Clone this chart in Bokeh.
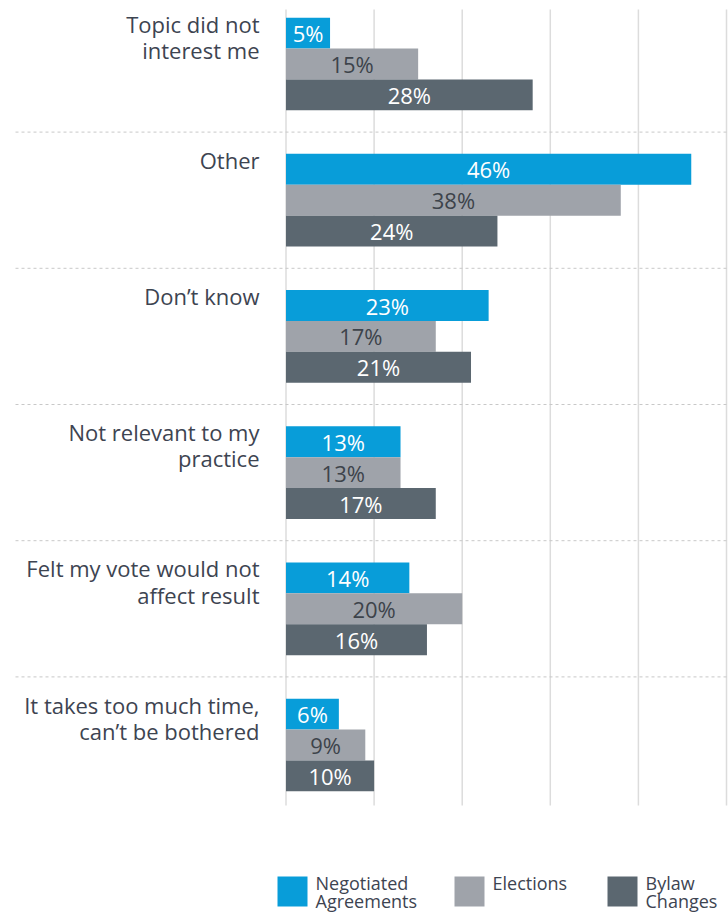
from bokeh.plotting import figure
from bokeh.models import Range1d, ColumnDataSource
from bokeh.core.properties import value
from bokeh.embed import file_html
from bokeh.resources import INLINE

categories = [
    "Topic did not\ninterest me",
    "Other",
    "Don\u2019t know",
    "Not relevant to my\npractice",
    "Felt my vote would not\naffect result",
    "It takes too much time,\ncan\u2019t be bothered",
]
negotiated = [5, 46, 23, 13, 14, 6]
elections = [15, 38, 17, 13, 20, 9]
bylaw = [28, 24, 21, 17, 16, 10]
series_names = ["Negotiated\nAgreements", "Elections", "Bylaw\nChanges"]
ticks = [0, 10, 20, 30, 40, 50]

colors = ["#089dd9", "#9fa3aa", "#5b6770"]
label_colors = ["#ffffff", "#3d434b", "#ffffff"]
FONT = "Open Sans"
TEXT = "#3d4451"

W, H = 728, 914
px_per_unit = 8.81
x0_px = 285.5
pitch = 136.2
first_c = 63.5
bar_h = 30.9 / pitch

xs = -x0_px / px_per_unit
x_range = Range1d(xs, xs + W / px_per_unit)
y_top = -first_c / pitch
y_range = Range1d(y_top + H / pitch, y_top)


def px_x(px):
    return xs + px / px_per_unit


def px_y(py):
    return y_top + py / pitch


p = figure(width=W, height=H, x_range=x_range, y_range=y_range,
           output_backend="svg", toolbar_location=None,
           x_axis_location=None, y_axis_location=None, min_border=0)
p.outline_line_color = None
p.xgrid.visible = False
p.ygrid.visible = False
p.background_fill_color = "white"

n = len(categories)
# vertical gridlines
p.segment(x0=ticks, x1=ticks, y0=[px_y(9)] * len(ticks), y1=[px_y(805)] * len(ticks),
          line_color="#dcdcdc", line_width=1.5)
# dashed separators
sep_y = [i + 0.5 for i in range(n - 1)]
p.segment(x0=[px_x(15)] * len(sep_y), x1=[px_x(W)] * len(sep_y),
          y0=sep_y, y1=sep_y, line_color="#c8c8c8", line_width=1, line_dash="3 3")

for k, vals in enumerate([negotiated, elections, bylaw]):
    ys = [i + (k - 1) * bar_h for i in range(n)]
    src = ColumnDataSource(dict(y=ys, right=vals, mid=[v / 2 for v in vals],
                                lab=[f"{v}%" for v in vals]))
    p.hbar(y="y", left=0, right="right", height=bar_h, source=src,
           fill_color=colors[k], line_color=None)
    p.text(x="mid", y="y", text="lab", source=src, text_align="center",
           text_baseline="middle", text_font=value(FONT), text_font_size="22px",
           text_color=label_colors[k])

# category labels
cat_src = ColumnDataSource(dict(x=[-26.5 / px_per_unit] * n,
                                y=[i - 1.5 * bar_h - 9 / pitch for i in range(n)],
                                t=categories))
p.text(x="x", y="y", text="t", source=cat_src, text_align="right",
       text_baseline="top", text_font=value(FONT), text_font_size="22px",
       text_color=TEXT, text_line_height=0.87)

# legend (custom, to match layout)
sq_left = [277, 454, 607]
leg_src = ColumnDataSource(dict(
    x=[px_x(v + 15) for v in sq_left],
    y=[px_y(891)] * 3,
    tx=[px_x(v + 38) for v in sq_left],
    ty=[px_y(870.5)] * 3,
    name=series_names,
    color=colors,
))
p.rect(x="x", y="y", width=30, height=30, width_units="screen", height_units="screen",
       fill_color="color", line_color=None, source=leg_src)
p.text(x="tx", y="ty", text="name", source=leg_src, text_align="left",
       text_baseline="top", text_font=value(FONT), text_font_size="18px",
       text_color=TEXT, text_line_height=0.74)

open("out.html", "w").write(file_html(p, INLINE))
